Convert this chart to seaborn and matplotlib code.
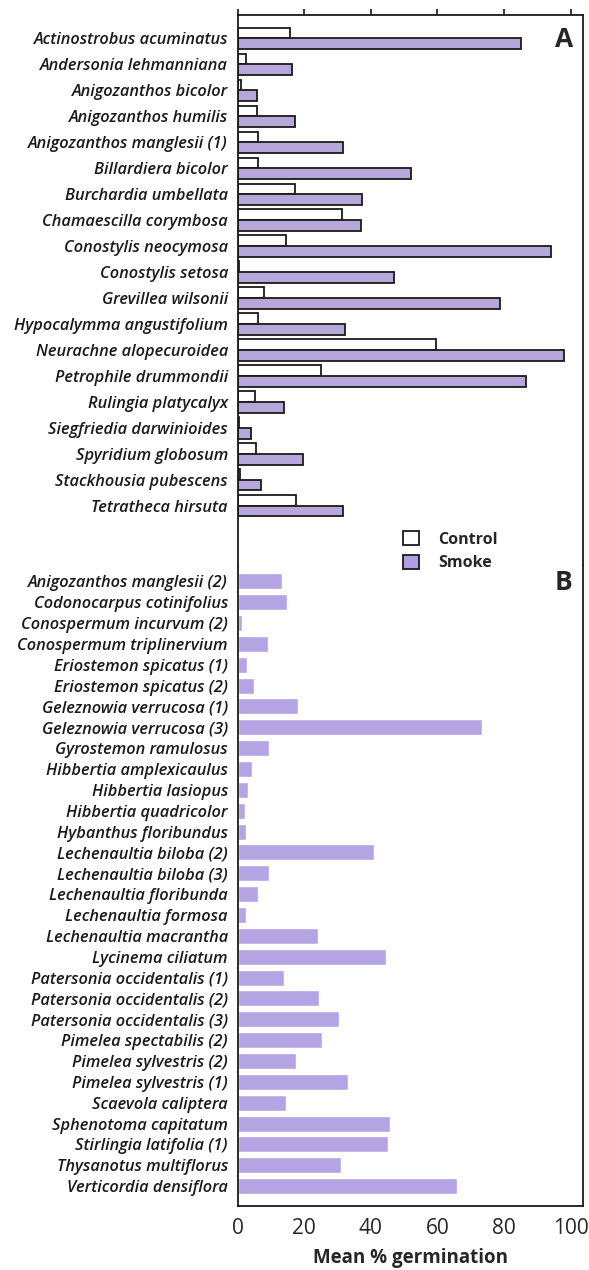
import pandas as pd
import matplotlib.pyplot as plt
import seaborn as sns
from matplotlib.patches import Patch

# panel A: species with control and smoke treatments
species_a = ['Actinostrobus acuminatus', 'Andersonia lehmanniana', 'Anigozanthos bicolor',
             'Anigozanthos humilis', 'Anigozanthos manglesii (1)', 'Billardiera bicolor',
             'Burchardia umbellata', 'Chamaescilla corymbosa', 'Conostylis neocymosa',
             'Conostylis setosa', 'Grevillea wilsonii', 'Hypocalymma angustifolium',
             'Neurachne alopecuroidea', 'Petrophile drummondii', 'Rulingia platycalyx',
             'Siegfriedia darwinioides', 'Spyridium globosum', 'Stackhousia pubescens',
             'Tetratheca hirsuta']
control_a = [15.7, 2.5, 1.0, 5.9, 6.0, 6.0, 17.1, 31.4, 14.6, 0.5, 8.0, 6.0,
             59.7, 25.0, 5.2, 0.5, 5.4, 0.7, 17.4]
smoke_a = [85.2, 16.2, 5.7, 17.3, 31.7, 52.0, 37.3, 37.0, 94.2, 47.0, 78.7, 32.1,
           98.0, 86.7, 13.9, 4.0, 19.5, 6.9, 31.5]

# panel B: smoke only
species_b = ['Anigozanthos manglesii (2)', 'Codonocarpus cotinifolius', 'Conospermum incurvum (2)',
             'Conospermum triplinervium', 'Eriostemon spicatus (1)', 'Eriostemon spicatus (2)',
             'Geleznowia verrucosa (1)', 'Geleznowia verrucosa (3)', 'Gyrostemon ramulosus',
             'Hibbertia amplexicaulus', 'Hibbertia lasiopus', 'Hibbertia quadricolor',
             'Hybanthus floribundus', 'Lechenaultia biloba (2)', 'Lechenaultia biloba (3)',
             'Lechenaultia floribunda', 'Lechenaultia formosa', 'Lechenaultia macrantha',
             'Lycinema ciliatum', 'Patersonia occidentalis (1)', 'Patersonia occidentalis (2)',
             'Patersonia occidentalis (3)', 'Pimelea spectabilis (2)', 'Pimelea sylvestris (2)',
             'Pimelea sylvestris (1)', 'Scaevola caliptera', 'Sphenotoma capitatum',
             'Stirlingia latifolia (1)', 'Thysanotus multiflorus', 'Verticordia densiflora']
smoke_b = [13.2, 14.7, 1.4, 9.1, 2.9, 5.0, 18.0, 73.3, 9.5, 4.3, 3.0, 2.3, 2.4,
           41.0, 9.5, 6.2, 2.6, 24.0, 44.5, 13.9, 24.5, 30.3, 25.4, 17.4, 33.1,
           14.6, 45.7, 45.1, 30.9, 65.8]

purple = '#b19fe2'
purple_b = '#b5a4e4'

sns.set_style('white')
plt.rcParams['font.family'] = ['Open Sans', 'DejaVu Sans']

df_a = pd.DataFrame({
    'species': species_a * 2,
    'value': control_a + smoke_a,
    'treatment': ['Control'] * len(species_a) + ['Smoke'] * len(species_a),
})
df_b = pd.DataFrame({'species': species_b, 'value': smoke_b})

fig = plt.figure(figsize=(5.89, 12.70), dpi=100)
ax_a = fig.add_axes([0.4036, 0.5551, 0.5862, 0.4331])
ax_b = fig.add_axes([0.4036, 0.0504, 0.5862, 0.5047])

sns.barplot(data=df_a, y='species', x='value', hue='treatment', orient='h',
            palette={'Control': 'white', 'Smoke': purple}, edgecolor='#1a1a1a',
            linewidth=1.3, width=0.82, ax=ax_a, legend=False)
sns.barplot(data=df_b, y='species', x='value', orient='h', color=purple_b,
            saturation=1, width=0.77, ax=ax_b)

for ax in (ax_a, ax_b):
    ax.set_xlim(0, 103.7)
    ax.set_ylabel('')
    for s in ax.spines.values():
        s.set_linewidth(1.3)
        s.set_color('#1a1a1a')
    ax.tick_params(axis='y', length=0, pad=7)
    for lab in ax.get_yticklabels():
        lab.set_fontstyle('italic')
        lab.set_fontweight('semibold')
        lab.set_fontsize(11.8)
        lab.set_color('#1a1a1a')

ax_a.set_ylim(20.28, -0.9)
ax_b.set_ylim(29.95, -0.78)

ax_a.spines['bottom'].set_visible(False)
ax_b.spines['top'].set_visible(False)

ax_a.set_xlabel('')
ax_a.xaxis.tick_top()
ax_a.set_xticks([0, 20, 40, 60, 80, 100])
ax_a.tick_params(axis='x', direction='out', length=4, width=1.3, labeltop=False)

ax_b.set_xticks([0, 20, 40, 60, 80, 100])
ax_b.tick_params(axis='x', direction='out', length=5, width=1.3, labelsize=15, pad=4)
ax_b.set_xlabel('Mean % germination', fontsize=13.5, fontweight='bold', labelpad=6)

ax_a.text(0.971, 0.955, 'A', transform=ax_a.transAxes, ha='right', va='center',
          fontsize=19, fontweight='bold')
ax_b.text(0.968, 0.972, 'B', transform=ax_b.transAxes, ha='right', va='center',
          fontsize=19, fontweight='bold')

handles = [Patch(facecolor='white', edgecolor='#1a1a1a', linewidth=1.3, label='Control'),
           Patch(facecolor=purple, edgecolor='#1a1a1a', linewidth=1.3, label='Smoke')]
fig.legend(handles=handles, loc='center left', bbox_to_anchor=(0.666, 0.566),
           frameon=False, prop={'weight': 'bold', 'size': 11.5},
           handlelength=1.0, handleheight=1.0, handletextpad=1.2, labelspacing=0.45,
           borderpad=0.2)

fig.savefig('out.png', dpi=100)
